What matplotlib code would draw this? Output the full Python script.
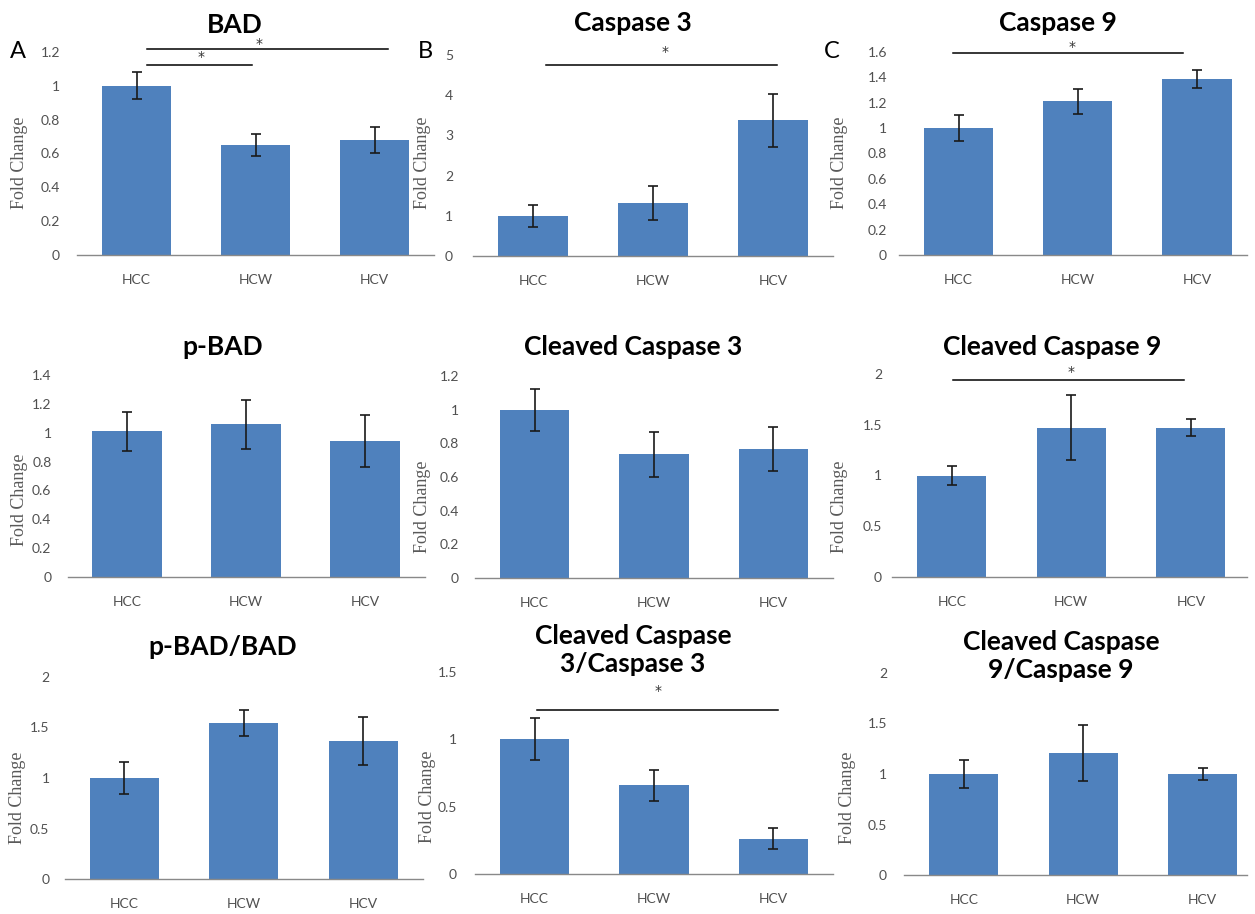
import matplotlib
matplotlib.use("Agg")
import matplotlib.pyplot as plt
from matplotlib.ticker import FuncFormatter

# ---------------- data ----------------
categories = ["HCC", "HCW", "HCV"]

bad_mean = [1.0, 0.65, 0.68]
bad_err = [0.08, 0.065, 0.077]
casp3_mean = [1.0, 1.32, 3.38]
casp3_err = [0.27, 0.42, 0.66]
casp9_mean = [1.0, 1.21, 1.39]
casp9_err = [0.10, 0.10, 0.07]

pbad_mean = [1.01, 1.06, 0.945]
pbad_err = [0.135, 0.17, 0.18]
ccasp3_mean = [1.0, 0.735, 0.765]
ccasp3_err = [0.125, 0.135, 0.13]
ccasp9_mean = [1.0, 1.47, 1.47]
ccasp9_err = [0.09, 0.32, 0.085]

pbad_bad_mean = [1.0, 1.545, 1.365]
pbad_bad_err = [0.16, 0.125, 0.235]
cc3_c3_mean = [1.0, 0.66, 0.26]
cc3_c3_err = [0.155, 0.115, 0.078]
cc9_c9_mean = [1.0, 1.21, 1.0]
cc9_c9_err = [0.14, 0.28, 0.06]

titles = ["BAD", "Caspase 3", "Caspase 9",
          "p-BAD", "Cleaved Caspase 3", "Cleaved Caspase 9",
          "p-BAD/BAD", "Cleaved Caspase\n3/Caspase 3", "Cleaved Caspase\n9/Caspase 9"]
y_max = [1.2, 5, 1.6, 1.4, 1.2, 2, 2, 1.5, 2]
y_step = [0.2, 1, 0.2, 0.2, 0.2, 0.5, 0.5, 0.5, 0.5]
panel_letters = ["A", "B", "C"]

# significance bars: (panel index, x start, x end, y, star x, star y)
sig_bars = [
    (0, 0.09, 2.11, 1.22, 1.03, 1.25),
    (0, 0.09, 0.97, 1.124, 0.54, 1.17),
    (1, 0.11, 2.03, 4.75, 1.10, 5.07),
    (2, -0.05, 1.88, 1.59, 0.95, 1.64),
    (5, 0.01, 1.94, 1.94, 1.00, 2.02),
    (7, 0.02, 2.04, 1.22, 1.03, 1.36),
]

means = [bad_mean, casp3_mean, casp9_mean, pbad_mean, ccasp3_mean, ccasp9_mean,
         pbad_bad_mean, cc3_c3_mean, cc9_c9_mean]
errs = [bad_err, casp3_err, casp9_err, pbad_err, ccasp3_err, ccasp9_err,
        pbad_bad_err, cc3_c3_err, cc9_c9_err]

# ---------------- layout (pixels) ----------------
W, H = 1255, 914
# left, right, bottom(y of zero), top(y of max tick), xlim right
axes_px = [
    (77, 434, 255, 52, 2.5),
    (473, 833, 256, 55, 2.5),
    (899, 1247, 255, 52, 2.42),
    (67.5, 424.5, 577, 375, 2.5),
    (475, 833, 578, 376, 2.5),
    (892, 1247, 577, 374, 2.47),
    (64.5, 423, 879, 677, 2.5),
    (475, 833, 874, 672, 2.5),
    (904, 1247, 875, 673, 2.37),
]
tick_pad_px = [17, 20, 12, 16, 16, 10, 15, 18, 17]
title_px = [(235, 25), (633, 23), (1058, 23),
            (223, 347), (633, 347), (1052, 347),
            (223, 647), (633, 650), (1061, 656)]
ylabel_px = [(20, 163), (422, 163), (840, 163),
             (20, 500), (422, 507), (840, 507),
             (18, 798), (427, 797), (848, 798)]
letter_px = [(18, 52), (425, 52), (832, 52)]

BAR = "#4F81BD"
GRAY = "#595959"
SANS = ["Lato", "DejaVu Sans"]

fig = plt.figure(figsize=(W / 100, H / 100), dpi=100)
fig.patch.set_facecolor("white")

def fx(x):
    return x / W

def fy(y):
    return 1 - y / H

fmt = FuncFormatter(lambda v, p: f"{v:g}")

axes = []
for i in range(9):
    l, r, b, t, xr = axes_px[i]
    ax = fig.add_axes([fx(l), fy(b), (r - l) / W, (b - t) / H])
    ax.set_facecolor("none")
    x = list(range(len(categories)))
    ax.bar(x, means[i], width=0.58, color=BAR, zorder=2)
    ax.errorbar(x, means[i], yerr=errs[i], fmt="none", ecolor="#1a1a1a",
                elinewidth=1.2, capsize=3.5, capthick=1.2, zorder=3)
    ax.set_xlim(-0.5, xr)
    ax.set_ylim(0, y_max[i])
    n = int(round(y_max[i] / y_step[i]))
    ax.set_yticks([k * y_step[i] for k in range(n + 1)])
    ax.yaxis.set_major_formatter(fmt)
    ax.set_xticks(x)
    ax.set_xticklabels(categories)
    for s in ["top", "right", "left"]:
        ax.spines[s].set_visible(False)
    ax.spines["bottom"].set_color("#898989")
    ax.spines["bottom"].set_linewidth(1.0)
    ax.tick_params(axis="both", length=0, colors=GRAY, labelsize=10)
    ax.tick_params(axis="y", pad=tick_pad_px[i] * 0.72)
    ax.tick_params(axis="x", pad=14)
    for lab in ax.get_xticklabels() + ax.get_yticklabels():
        lab.set_family(SANS)
        lab.set_color("#505050")
    axes.append(ax)

    tx, ty = title_px[i]
    fig.text(fx(tx), fy(ty), titles[i], ha="center", va="center",
             fontsize=19, fontweight="bold", family=SANS, color="black",
             linespacing=1.15)
    lx, ly = ylabel_px[i]
    fig.text(fx(lx), fy(ly), "Fold Change", rotation=90, ha="center",
             va="center", fontsize=13, family=["Liberation Serif"], color=GRAY)

for j, (lx, ly) in enumerate(letter_px):
    fig.text(fx(lx), fy(ly), panel_letters[j], ha="center", va="center",
             fontsize=17, family=SANS, color="black")

for (pi, x0, x1, yv, sx, sy) in sig_bars:
    ax = axes[pi]
    ax.plot([x0, x1], [yv, yv], color="black", lw=1.1, clip_on=False, zorder=4)
    ax.text(sx, sy, "*", ha="center", va="center", fontsize=10,
            color="#333333", family=["DejaVu Sans"], clip_on=False)

fig.savefig("out.png", dpi=100, facecolor="white")
